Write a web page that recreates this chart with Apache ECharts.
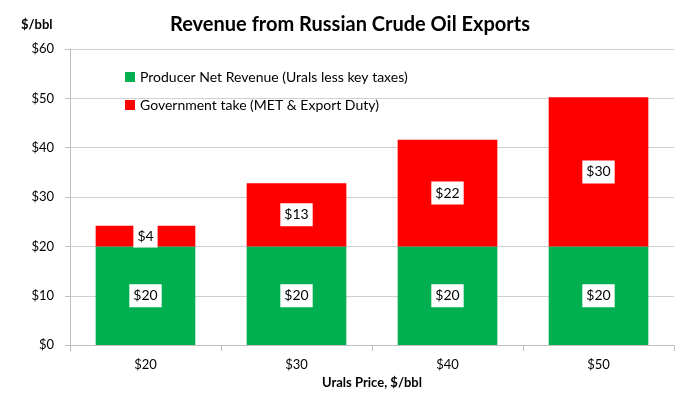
<!DOCTYPE html>
<html><head><meta charset="utf-8">
<script src="https://cdn.jsdelivr.net/npm/echarts@6/dist/echarts.min.js"></script>
<style>html,body{margin:0;padding:0;background:#fff}#c{width:700px;height:394px}</style>
</head><body><div id="c"></div>
<script>
const categories = ['$20', '$30', '$40', '$50'];
const producerNet = [20, 20, 20, 20];
const governmentTake = [4.2, 12.8, 21.6, 30.2];
const yTicks = [0, 10, 20, 30, 40, 50, 60];

const FONT = 'Lato';
const chart = echarts.init(document.getElementById('c'));
const labelStyle = {
  show: true, position: 'inside', color: '#000', backgroundColor: '#fff',
  fontFamily: FONT, fontSize: 14, padding: [5, 4, 4, 4],
  formatter: p => '$' + Math.round(p.value)
};
chart.setOption({
  animation: false,
  title: [{
    text: 'Revenue from Russian Crude Oil Exports', left: 'center', top: 10,
    textStyle: { fontFamily: FONT, fontSize: 20, fontWeight: 'bold', color: '#000' }
  }, {
    text: '$/bbl', left: 16, top: 13,
    textStyle: { fontFamily: FONT, fontSize: 13, fontWeight: 'bold', color: '#000' }
  }],
  legend: {
    orient: 'vertical', left: 120, top: 65, itemWidth: 10, itemHeight: 10, itemGap: 14,
    icon: 'rect',
    textStyle: { fontFamily: FONT, fontSize: 14, color: '#000' },
    data: ['Producer Net Revenue (Urals less key taxes)', 'Government take (MET & Export Duty)']
  },
  grid: { left: 70, right: 26, top: 49, bottom: 46 },
  xAxis: {
    type: 'category', data: categories,
    name: 'Urals Price, $/bbl', nameLocation: 'middle', nameGap: 28,
    nameTextStyle: { fontFamily: FONT, fontSize: 13, fontWeight: 'bold', color: '#000' },
    axisLine: { lineStyle: { color: '#bfbfbf' } },
    axisTick: { show: true, length: 6, lineStyle: { color: '#bfbfbf' } },
    axisLabel: { fontFamily: FONT, fontSize: 13, color: '#000', margin: 13 }
  },
  yAxis: {
    type: 'value', min: 0, max: 60, interval: 10,
    axisLine: { show: true, lineStyle: { color: '#bfbfbf' } },
    axisTick: { show: true, length: 5, lineStyle: { color: '#bfbfbf' } },
    splitLine: { lineStyle: { color: '#d0d0d0' } },
    axisLabel: { fontFamily: FONT, fontSize: 13, color: '#000', margin: 16,
      formatter: v => yTicks.includes(v) ? '$' + v : '' }
  },
  series: [{
    name: 'Producer Net Revenue (Urals less key taxes)', type: 'bar', stack: 't',
    data: producerNet, barWidth: '66%', itemStyle: { color: '#00b050' }, label: labelStyle
  }, {
    name: 'Government take (MET & Export Duty)', type: 'bar', stack: 't',
    data: governmentTake, barWidth: '66%', itemStyle: { color: '#ff0000' }, label: labelStyle
  }]
});
</script></body></html>
